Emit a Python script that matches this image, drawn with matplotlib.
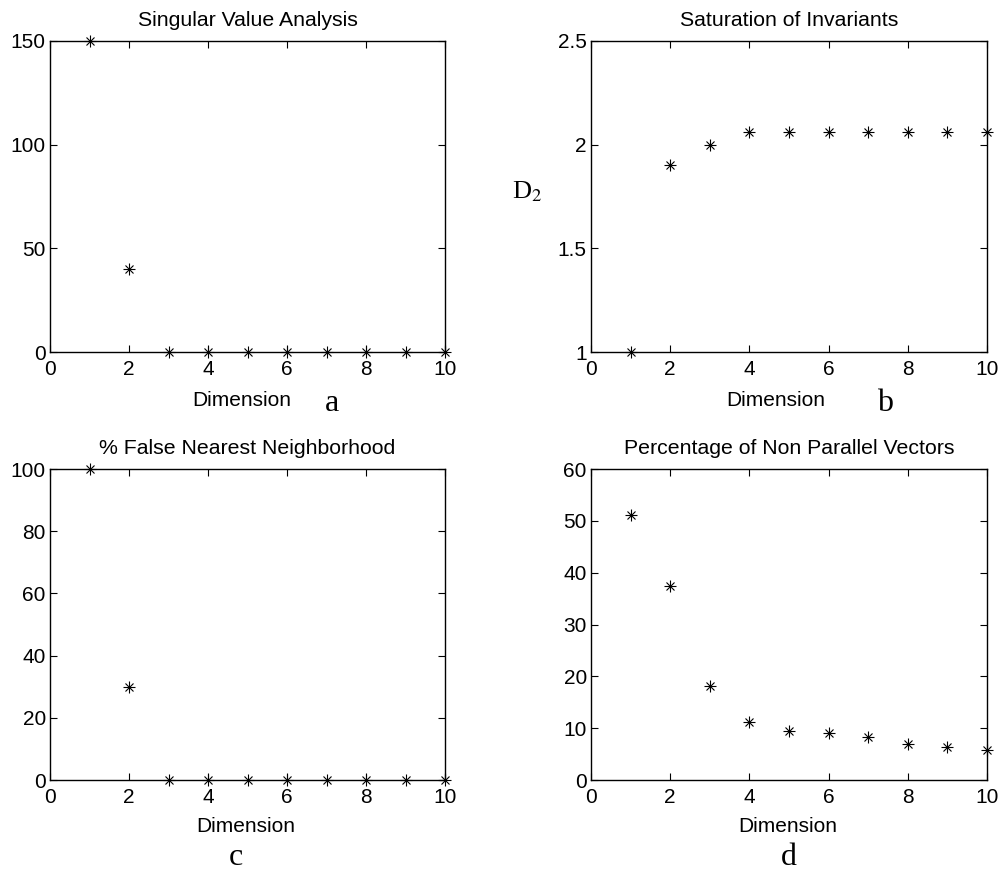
import matplotlib.pyplot as plt
import numpy as np

plt.rcParams['font.family'] = ['Liberation Sans', 'DejaVu Sans']

dims = np.arange(1, 11)

singular_vals = [150, 40, 0, 0, 0, 0, 0, 0, 0, 0]
d2_vals = [1.0, 1.90, 2.0, 2.06, 2.06, 2.06, 2.06, 2.06, 2.06, 2.06]
fnn_vals = [100, 30, 0, 0, 0, 0, 0, 0, 0, 0]
nonparallel_vals = [51.2, 37.5, 18.2, 11.2, 9.4, 9.05, 8.2, 6.9, 6.35, 5.8]

titles = ["Singular Value Analysis", "Saturation of Invariants",
          "% False Nearest Neighborhood", "Percentage of Non Parallel Vectors"]
panel_tags = ["a", "b", "c", "d"]

fig = plt.figure(figsize=(10.04, 8.72), dpi=100)
W, H = 1004.0, 872.0


def make_axes(left, top, right, bottom):
    return fig.add_axes([left / W, 1 - bottom / H, (right - left) / W, (bottom - top) / H])


ax_a = make_axes(50, 41, 445, 352)
ax_b = make_axes(591, 41, 987, 352)
ax_c = make_axes(50, 469, 445, 780)
ax_d = make_axes(591, 469, 987, 780)

axes = [ax_a, ax_b, ax_c, ax_d]
series = [singular_vals, d2_vals, fnn_vals, nonparallel_vals]
ylims = [(0, 150), (1, 2.5), (0, 100), (0, 60)]
yticks = [[0, 50, 100, 150], [1, 1.5, 2, 2.5], [0, 20, 40, 60, 80, 100], [0, 10, 20, 30, 40, 50, 60]]
ytick_labels = [None, ["1", "1.5", "2", "2.5"], None, None]
xlabel_pos = [(0.486, -0.126), (0.467, -0.126), (0.496, -0.119), (0.497, -0.119)]

for ax, vals, title, yl, yt, ytl, xp in zip(axes, series, titles, ylims, yticks, ytick_labels, xlabel_pos):
    # MATLAB-style asterisk: plus and cross overlaid
    ax.plot(dims, vals, linestyle='none', marker='+', markersize=8.5, mew=0.8, color='black', clip_on=False, zorder=5)
    ax.plot(dims, vals, linestyle='none', marker='x', markersize=6, mew=0.8, color='black', clip_on=False, zorder=5)
    ax.set_xlim(0, 10)
    ax.set_ylim(*yl)
    ax.set_xticks([0, 2, 4, 6, 8, 10])
    ax.set_yticks(yt)
    if ytl is not None:
        ax.set_yticklabels(ytl)
    ax.tick_params(direction='in', top=True, right=True, length=5, width=0.8, labelsize=15)
    ax.tick_params(axis='x', pad=6)
    ax.tick_params(axis='y', pad=3)
    for s in ax.spines.values():
        s.set_linewidth(1.0)
    ax.set_title(title, fontsize=15.3, pad=11)
    ax.set_xlabel("Dimension", fontsize=15)
    ax.xaxis.set_label_coords(*xp)

# D2 axis label for the invariants panel
fig.text(512 / W, 1 - 192 / H, r"D$_2$", family='Liberation Serif', fontsize=19, ha='left', va='center',
         math_fontfamily='stix')

tag_xy = [(332, 403), (885, 403), (236, 857), (789, 857)]
for tag, (x, y) in zip(panel_tags, tag_xy):
    fig.text(x / W, 1 - y / H, tag, family='Liberation Serif', fontsize=23, ha='center', va='center')

fig.savefig("out.png", dpi=100)
